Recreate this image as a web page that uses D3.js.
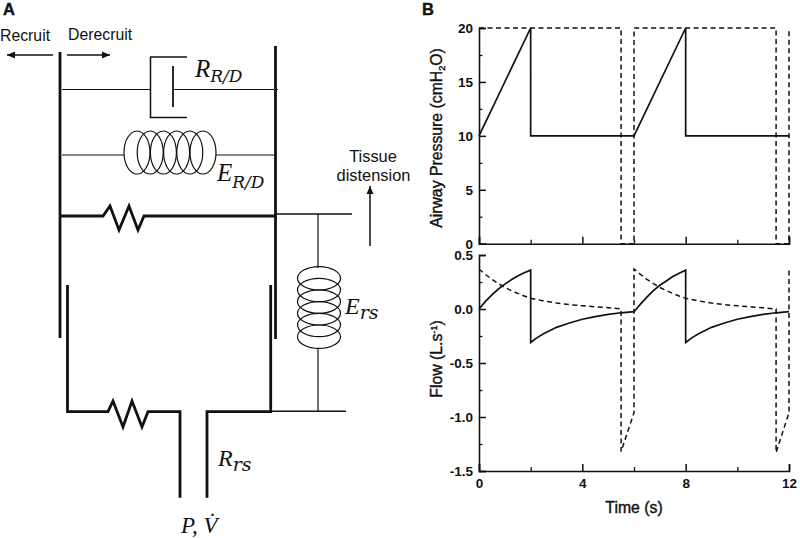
<!DOCTYPE html>
<html>
<head>
<meta charset="utf-8">
<script src="https://cdn.jsdelivr.net/npm/d3@7"></script>
<style>
  html, body { margin: 0; padding: 0; background: #fff; }
  svg { display: block; }
  text { font-family: "Liberation Sans", Arial, sans-serif; fill: #111; }
  .math { font-family: "Liberation Serif", serif; font-style: italic; }
  .math .sub { font-family: "DejaVu Serif", serif; }
  .tick-label { font-size: 13.5px; font-weight: bold; }
  .axis-title { font-size: 15.8px; stroke: #111; stroke-width: 0.4px; }
</style>
</head>
<body>
<svg id="chart" width="800" height="538"></svg>
<script>
// Values
const pressureTime = [0, 2, 2, 6, 8, 8, 12];
const pressureSolid = [10, 20, 10, 10, 20, 10, 10];
const pressureDashTime = [0, 5.5, 5.5, 6, 6, 11.5, 11.5, 12, 12];
const pressureDash = [20, 20, 0, 0, 20, 20, 0, 0, 20];

const flowTime = [0, 0.25, 0.5, 0.75, 1, 1.25, 1.5, 1.75, 2, 2, 2.25, 2.5, 2.75, 3, 3.5, 4, 4.5, 5, 5.5, 6,
  6.25, 6.5, 6.75, 7, 7.25, 7.5, 7.75, 8, 8, 8.25, 8.5, 8.75, 9, 9.5, 10, 10.5, 11, 11.5, 12];
const flowSolid = [0, 0.07, 0.13, 0.185, 0.23, 0.27, 0.305, 0.335, 0.36, -0.31, -0.265, -0.23, -0.2, -0.17, -0.13, -0.095, -0.07, -0.05, -0.035, -0.025,
  0.045, 0.11, 0.17, 0.22, 0.26, 0.3, 0.33, 0.36, -0.31, -0.265, -0.23, -0.2, -0.17, -0.13, -0.095, -0.07, -0.05, -0.035, -0.025];
const flowDashTime = [0, 0.25, 0.5, 0.75, 1, 1.25, 1.5, 1.75, 2, 2.5, 3, 3.5, 4, 4.5, 5, 5.5, 5.5, 6, 6,
  6.25, 6.5, 6.75, 7, 7.25, 7.5, 7.75, 8, 8.5, 9, 9.5, 10, 10.5, 11, 11.5, 11.5, 12, 12];
const flowDash = [0.37, 0.32, 0.275, 0.235, 0.2, 0.17, 0.145, 0.12, 0.1, 0.075, 0.055, 0.04, 0.03, 0.02, 0.012, 0, -1.32, -0.96, 0.37,
  0.32, 0.275, 0.235, 0.2, 0.17, 0.145, 0.12, 0.1, 0.075, 0.055, 0.04, 0.03, 0.02, 0.012, 0, -1.33, -0.96, 0.37];

const timeMajor = [0, 4, 8, 12];
const timeMinor = [2, 6, 10];
const pressureMajor = [0, 5, 10, 15, 20];
const pressureMinor = [2.5, 7.5, 12.5, 17.5];
const flowMajor = [0.5, 0, -0.5, -1, -1.5];
const flowMinor = [0.25, -0.25, -0.75, -1.25];

const svg = d3.select("#chart");

// ---- panel B ----
const x = d3.scaleLinear().domain([0, 12]).range([479, 789]);
const yPressure = d3.scaleLinear().domain([0, 20]).range([243.7, 28]);
const yFlow = d3.scaleLinear().domain([-1.5, 0.5]).range([471, 255]);

function drawAxes(yScale, major, minor, fmt, showTimeLabels) {
  const baseY = yScale.range()[0];
  const g = svg.append("g");

  const left = g.append("g").attr("transform", "translate(479,0)")
    .call(d3.axisLeft(yScale).tickValues(major).tickSize(-7).tickPadding(6).tickFormat(fmt));
  left.selectAll("text").attr("class", "tick-label");
  left.selectAll(".domain").attr("stroke", "#111").attr("stroke-width", 1.6);
  left.selectAll("line").attr("stroke", "#111").attr("stroke-width", 1.5);

  const leftMinor = g.append("g").attr("transform", "translate(479,0)")
    .call(d3.axisLeft(yScale).tickValues(minor).tickSize(-3.5).tickFormat(""));
  leftMinor.select(".domain").remove();
  leftMinor.selectAll("line").attr("stroke", "#111").attr("stroke-width", 1.3);

  const bottom = g.append("g").attr("transform", `translate(0,${baseY})`)
    .call(d3.axisBottom(x).tickValues(timeMajor).tickSize(-7).tickPadding(7)
      .tickFormat(showTimeLabels ? d3.format("d") : ""));
  bottom.selectAll("text").attr("class", "tick-label");
  bottom.selectAll(".domain").attr("stroke", "#111").attr("stroke-width", 1.6);
  bottom.selectAll("line").attr("stroke", "#111").attr("stroke-width", 1.5);

  const bottomMinor = g.append("g").attr("transform", `translate(0,${baseY})`)
    .call(d3.axisBottom(x).tickValues(timeMinor).tickSize(-4).tickFormat(""));
  bottomMinor.select(".domain").remove();
  bottomMinor.selectAll("line").attr("stroke", "#111").attr("stroke-width", 1.3);
}

function drawSeries(times, values, yScale, dashed) {
  const line = d3.line().x((d, i) => x(times[i])).y(d => yScale(d));
  svg.append("path")
    .attr("d", line(values))
    .attr("fill", "none")
    .attr("stroke", "#111")
    .attr("stroke-width", dashed ? 1.5 : 1.7)
    .attr("stroke-dasharray", dashed ? "5,3.5" : null);
}

drawAxes(yPressure, pressureMajor, pressureMinor, d3.format("d"), false);
drawAxes(yFlow, flowMajor, flowMinor, d => d3.format(".1f")(d).replace("\u2212", "-"), true);

drawSeries(pressureDashTime, pressureDash, yPressure, true);
drawSeries(pressureTime, pressureSolid, yPressure, false);
drawSeries(flowDashTime, flowDash, yFlow, true);
drawSeries(flowTime, flowSolid, yFlow, false);

// axis titles
const pTitle = svg.append("text").attr("class", "axis-title")
  .attr("text-anchor", "middle")
  .attr("transform", "translate(442,138) rotate(-90)");
pTitle.append("tspan").text("Airway Pressure (cmH");
pTitle.append("tspan").text("2").attr("font-size", 9).attr("dy", 3);
pTitle.append("tspan").text("O)").attr("dy", -3);

const fTitle = svg.append("text").attr("class", "axis-title")
  .attr("text-anchor", "middle")
  .attr("transform", "translate(442,359) rotate(-90)");
fTitle.append("tspan").text("Flow (L.s");
fTitle.append("tspan").text("-1").attr("font-size", 9).attr("dy", -5);
fTitle.append("tspan").text(")").attr("dy", 5);

svg.append("text").attr("class", "axis-title")
  .attr("x", 634).attr("y", 513).attr("text-anchor", "middle").text("Time (s)");

// ---- panel A: schematic ----
const wire = (pts, w) => svg.append("path")
  .attr("d", d3.line()(pts))
  .attr("fill", "none").attr("stroke", "#111").attr("stroke-width", w)
  .attr("stroke-linejoin", "miter");

function arrow(x1, y1, x2, y2) {
  wire([[x1, y1], [x2, y2]], 1.5);
  const a = Math.atan2(y2 - y1, x2 - x1), len = 8, half = 3.5;
  const ca = Math.cos(a), sa = Math.sin(a);
  svg.append("path")
    .attr("d", d3.line()([
      [x2, y2],
      [x2 - len * ca - half * sa, y2 - len * sa + half * ca],
      [x2 - len * ca + half * sa, y2 - len * sa - half * ca]
    ]) + "Z")
    .attr("fill", "#111");
}

// outer plates
wire([[60, 52], [60, 338]], 2.8);
wire([[275.5, 46], [275.5, 339]], 2.8);

// damper branch
wire([[62, 89.5], [150.5, 89.5]], 1.2);
wire([[187, 57], [150.5, 57], [150.5, 117.5], [187, 117.5]], 1.5);
wire([[173, 66], [173, 107]], 1.8);
wire([[174, 89.5], [278, 89.5]], 1.2);

// elastance coil
wire([[62, 155], [124, 155]], 1.2);
wire([[216, 155], [275, 155]], 1.2);
d3.range(6).forEach(i => {
  svg.append("ellipse")
    .attr("cx", 137 + i * 13.2).attr("cy", 152.5).attr("rx", 13).attr("ry", 21.5)
    .attr("fill", "none").attr("stroke", "#111").attr("stroke-width", 1.2);
});

// top resistor
wire([[60, 216], [103, 216], [110, 206], [119, 230], [129, 206], [138, 230], [144, 216], [275, 216]], 2.8);
wire([[275, 214], [352, 214]], 1.6);

// inner plates and bottom resistor
wire([[67.5, 285], [67.5, 411.7], [108, 411.7], [113, 401], [123, 427], [132, 401], [142, 427], [148, 411.7], [180, 411.7], [180, 497.7]], 2.8);
wire([[270.7, 285], [270.7, 411.7], [207, 411.7], [207, 497.7]], 2.8);
wire([[270, 411.3], [346, 411.3]], 1.6);

// Ers spring
wire([[318, 214], [318, 268]], 1.2);
wire([[318, 348], [318, 411]], 1.2);
[278.3, 290, 301.6, 313.3, 325, 336.7].forEach(cy => {
  svg.append("ellipse")
    .attr("cx", 319).attr("cy", cy).attr("rx", 21.5).attr("ry", 11.7)
    .attr("fill", "none").attr("stroke", "#111").attr("stroke-width", 1.2);
});

// arrows
arrow(53, 55, 7, 55);
arrow(67, 55, 110, 55);
arrow(370, 246, 370, 186);

// labels
const label = (t, px, py, size, anchor) => svg.append("text")
  .attr("x", px).attr("y", py).attr("font-size", size)
  .attr("text-anchor", anchor || "start").text(t);

label("Recruit", 0, 40.5, 15.8);
label("Derecruit", 68, 40, 15.8);
label("Tissue", 373, 162, 16.4, "middle");
label("distension", 373.5, 181, 16.4, "middle");

label("A", 3, 15, 16.5).attr("font-weight", "bold").attr("stroke", "#111").attr("stroke-width", 0.4);
label("B", 422, 15, 16.5).attr("font-weight", "bold").attr("stroke", "#111").attr("stroke-width", 0.4);

function mathLabel(main, sub, px, py, size, subSize, drop) {
  const t = svg.append("text").attr("class", "math").attr("x", px).attr("y", py).attr("font-size", size);
  t.append("tspan").text(main);
  t.append("tspan").attr("class", "sub").text(sub).attr("font-size", subSize).attr("dy", drop);
  return t;
}
mathLabel("R", "R/D", 195, 77, 25, 17, 5);
mathLabel("E", "R/D", 217, 180.5, 25, 17, 7);
mathLabel("E", "rs", 345, 314, 24, 19, 5);
mathLabel("R", "rs", 218, 466, 24, 19, 5);

const pv = svg.append("text").attr("class", "math").attr("x", 181).attr("y", 533).attr("font-size", 23);
pv.append("tspan").text("P, V\u0307");
</script>
</body>
</html>
